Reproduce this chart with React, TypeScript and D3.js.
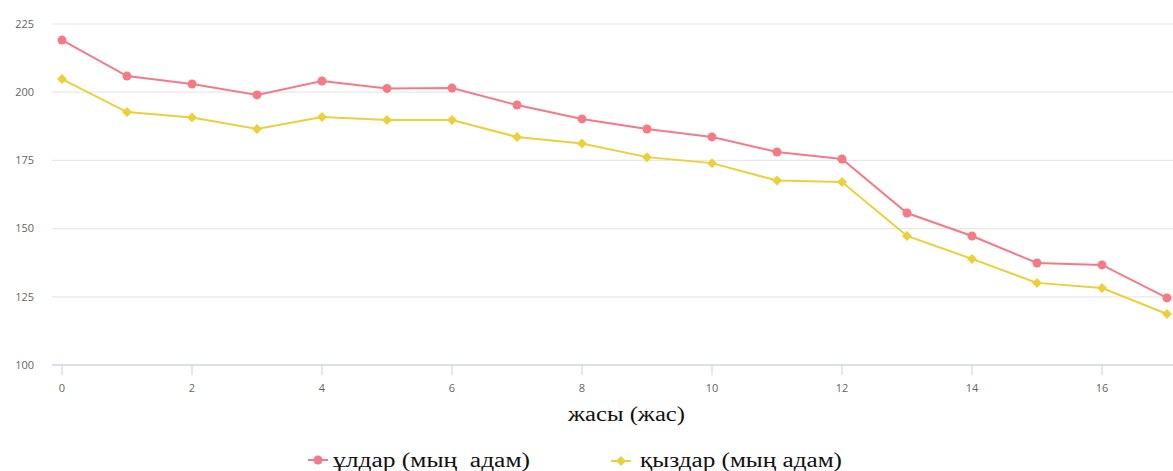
import React from "react";
import * as d3 from "d3";

const ages = [0, 1, 2, 3, 4, 5, 6, 7, 8, 9, 10, 11, 12, 13, 14, 15, 16, 17];
const boys = [219.1, 205.9, 203.0, 199.0, 204.1, 201.4, 201.5, 195.3, 190.2, 186.5, 183.6, 178.1, 175.5, 155.7, 147.3, 137.4, 136.7, 124.6];
const girls = [204.8, 192.7, 190.7, 186.5, 190.9, 189.8, 189.8, 183.6, 181.2, 176.2, 174.0, 167.6, 167.1, 147.3, 138.9, 130.1, 128.2, 118.7];
const yTicks = [100, 125, 150, 175, 200, 225];
const xTicks = [0, 2, 4, 6, 8, 10, 12, 14, 16];
const xTitle = "жасы (жас)";
const boysLabel = "ұлдар (мың  адам)";
const girlsLabel = "қыздар (мың адам)";

const W = 1173;
const H = 471;
const PINK = "#f47b85";
const YELLOW = "#ecd03a";

export default function App() {
  const x = d3.scaleLinear().domain([0, 17]).range([62, 1167]);
  const y = d3.scaleLinear().domain([100, 225]).range([365, 24]);
  const line = d3
    .line<number>()
    .x((_, i) => x(ages[i]))
    .y((d) => y(d));
  const diamond = (cx: number, cy: number, r: number) =>
    `M${cx},${cy - r}L${cx + r},${cy}L${cx},${cy + r}L${cx - r},${cy}Z`;
  const labelFont = "'Open Sans', 'DejaVu Sans', sans-serif";
  const serif = "'Liberation Serif', 'Times New Roman', serif";
  return (
    <svg
      width={W}
      height={H}
      style={{ position: "absolute", left: 0, top: 0, background: "#fff" }}
    >
      {yTicks.map((t) => (
        <g key={t}>
          {t !== 100 && (
            <line x1={52} x2={W} y1={y(t)} y2={y(t)} stroke="#e8e8e8" strokeWidth={1.2} />
          )}
          <text
            x={34}
            y={y(t)}
            dy="0.35em"
            textAnchor="end"
            fontSize={11}
            fill="#666"
            fontFamily={labelFont}
          >
            {t}
          </text>
        </g>
      ))}
      <line x1={52} x2={W} y1={y(100)} y2={y(100)} stroke="#ccd6eb" strokeWidth={1.5} />
      {xTicks.map((t) => (
        <g key={t}>
          <line x1={x(t)} x2={x(t)} y1={y(100)} y2={y(100) + 10} stroke="#ccd6eb" strokeWidth={1.2} />
          <text
            x={x(t)}
            y={388}
            dy="0.35em"
            textAnchor="middle"
            fontSize={11}
            fill="#666"
            fontFamily={labelFont}
          >
            {t}
          </text>
        </g>
      ))}
      <text
        x={568}
        y={421}
        fontSize={20}
        fill="#111"
        fontFamily={serif}
        textLength={117}
        lengthAdjust="spacingAndGlyphs"
      >
        {xTitle}
      </text>

      <path d={line(boys) || ""} fill="none" stroke={PINK} strokeWidth={2} />
      <path d={line(girls) || ""} fill="none" stroke={YELLOW} strokeWidth={2} />
      {boys.map((v, i) => (
        <circle key={"b" + i} cx={x(ages[i])} cy={y(v)} r={4.5} fill={PINK} />
      ))}
      {girls.map((v, i) => (
        <path key={"g" + i} d={diamond(x(ages[i]), y(v), 5)} fill={YELLOW} />
      ))}

      <g>
        <line x1={308} x2={328} y1={460} y2={460} stroke={PINK} strokeWidth={2} />
        <circle cx={318} cy={460} r={4.5} fill={PINK} />
        <text
          x={333}
          y={467}
          fontSize={20}
          fill="#111"
          fontFamily={serif}
          xmlSpace="preserve"
          style={{ whiteSpace: "pre" }}
          textLength={197}
          lengthAdjust="spacingAndGlyphs"
        >
          {boysLabel}
        </text>
      </g>
      <g>
        <line x1={611} x2={631} y1={461} y2={461} stroke={YELLOW} strokeWidth={2} />
        <path d={diamond(621, 461, 5)} fill={YELLOW} />
        <text
          x={640}
          y={467}
          fontSize={20}
          fill="#111"
          fontFamily={serif}
          textLength={202}
          lengthAdjust="spacingAndGlyphs"
        >
          {girlsLabel}
        </text>
      </g>
    </svg>
  );
}
